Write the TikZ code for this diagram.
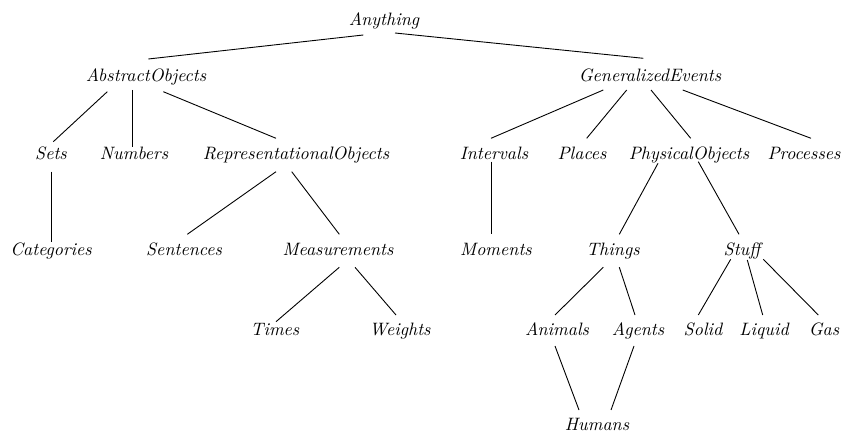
\documentclass[tikz,border=0pt]{standalone}
\begin{document}
\begin{tikzpicture}[x=0.557pt,y=-0.557pt,
  cat/.style={font=\itshape, anchor=base, inner sep=3pt},
  edge/.style={line width=0.5pt}]
\useasboundingbox (0,0) rectangle (847,433);
\node[cat] (any) at (384,26) {Anything};
\node[cat] (abs) at (146,82) {AbstractObjects};
\node[cat] (gen) at (650,82) {GeneralizedEvents};
\node[cat] (sets) at (51,160) {Sets};
\node[cat] (num) at (134,160) {Numbers};
\node[cat] (rep) at (296,160) {RepresentationalObjects};
\node[cat] (int) at (494,160) {Intervals};
\node[cat] (pla) at (582,160) {Places};
\node[cat] (phy) at (689,160) {PhysicalObjects};
\node[cat] (pro) at (804,160) {Processes};
\node[cat] (cat) at (51,256) {Categories};
\node[cat] (sen) at (184,256) {Sentences};
\node[cat] (mea) at (338,256) {Measurements};
\node[cat] (mom) at (496,256) {Moments};
\node[cat] (thi) at (613,256) {Things};
\node[cat] (stu) at (742,256) {Stuff};
\node[cat] (tim) at (275,335) {Times};
\node[cat] (wei) at (400,335) {Weights};
\node[cat] (ani) at (557,335) {Animals};
\node[cat] (age) at (638,335) {Agents};
\node[cat] (sol) at (703,335) {Solid};
\node[cat] (liq) at (764,335) {Liquid};
\node[cat] (gas) at (824,335) {Gas};
\node[cat] (hum) at (597,430) {Humans};
\foreach \a/\ax/\ay/\b/\bx/\by in {
  any/-20.7/9/abs/2.3/-23,
  any/11/7/gen/-6.7/-23.7,
  abs/-38.7/9.7/sets/2.3/-18.3,
  abs/-13.7/8/num/-1.7/-13.3,
  abs/17.3/9.7/rep/-20/-21.7,
  gen/-46.7/8/int/-3/-21.7,
  gen/-23.3/8/pla/4.7/-21.7,
  gen/1/8/phy/1.7/-21.7,
  gen/32.7/8/pro/7/-21.7,
  sets/0.7/11.7/cat/0.7/-14.3,
  rep/-20/11.7/sen/3.3/-21.7,
  rep/-4.3/11.7/mea/1.3/-21.7,
  int/-3/1.7/mom/-5/-21.7,
  phy/-31/3.3/thi/6.3/-21.7,
  phy/9.3/1.7/stu/-3/-21.7,
  mea/1.3/11.3/tim/1/-13.3,
  mea/17/11.3/wei/-4/-20,
  thi/-9.7/11.3/ani/-2/-20,
  thi/6.3/11.3/age/-3/-20,
  stu/-11.3/3.3/sol/-4.7/-20,
  stu/5.3/4/liq/-1.3/-20,
  stu/21.3/3.3/gas/-5.7/-20,
  ani/-2/11/hum/-18/-20,
  age/-4/11/hum/14/-20}
  \draw[edge] ([shift={(\ax,\ay)}]\a.base) -- ([shift={(\bx,\by)}]\b.base);
\end{tikzpicture}
\end{document}
